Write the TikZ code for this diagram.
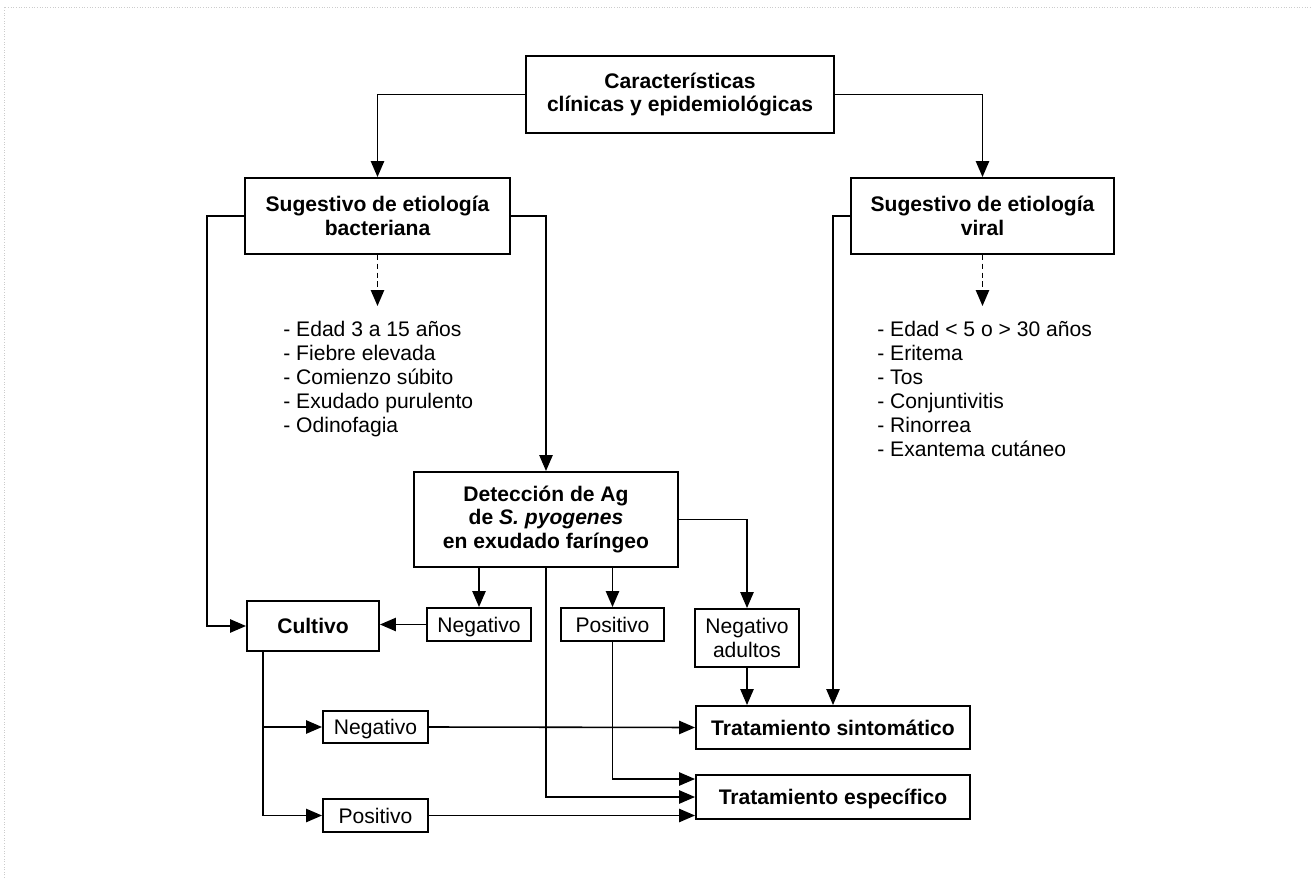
\documentclass[tikz,border=0pt]{standalone}
\usepackage{fontspec}
\setmainfont{Liberation Sans}
\usetikzlibrary{arrows.meta,calc}
\begin{document}
\begin{tikzpicture}[x=0.02cm,y=-0.02cm,
  wh/.style 2 args={minimum width=#1*0.02cm, minimum height=#2*0.02cm},
  box/.style={draw, line width=1.1pt, inner sep=0pt, align=center, font=\fontsize{12}{13.6}\selectfont\bfseries},
  sbox/.style={draw, line width=1.1pt, inner sep=0pt, align=center, font=\fontsize{12}{13.6}\selectfont},
  one/.style={text height=8.6pt, text depth=0pt},
  arr/.style={line width=0.9pt, -{Triangle[length=9pt,width=7.5pt]}},
  darr/.style={arr, dash pattern=on 3pt off 2pt},
  lst/.style={inner sep=0pt, align=left, anchor=north west, font=\fontsize{12}{13.6}\selectfont},
  frame/.style={gray!40, line width=0.5pt, densely dotted}
]
\useasboundingbox (0,0) rectangle (1312,878);
\fill[white] (0,0) rectangle (1312,878);
\draw[frame] (4,878) -- (4,7) -- (1312,7);

\node[box, wh={308}{77}] (top) at (680,94.5) {Características\\clínicas y epidemiológicas};
\node[box, wh={265}{76}] (bac) at (377.5,216) {Sugestivo de etiología\\bacteriana};
\node[box, wh={263}{76}] (vir) at (982.5,216) {Sugestivo de etiología\\viral};
\node[box, wh={264}{95}] (det) at (546,519.5) {Detección de Ag\\de \textit{S. pyogenes}\\en exudado faríngeo};
\node[sbox, one, wh={104}{33}] (neg1) at (479,624.5) {Negativo};
\node[sbox, one, wh={103}{33}] (pos1) at (612.5,624.5) {Positivo};
\node[sbox, wh={104}{58}] (nega) at (747,638) {Negativo\\adultos};
\node[box, one, wh={132}{50}] (cult) at (313,626) {Cultivo};
\node[sbox, one, wh={105}{32}] (neg2) at (375.5,727) {Negativo};
\node[sbox, one, wh={105}{33}] (pos2) at (375.5,815.5) {Positivo};
\node[box, one, wh={274}{43}] (sint) at (833,727.5) {Tratamiento sintomático};
\node[box, one, wh={274}{44}] (espe) at (833,797) {Tratamiento específico};

\node[lst] (blist) at (283,321) {- Edad 3 a 15 años\\- Fiebre elevada\\- Comienzo súbito\\- Exudado purulento\\- Odinofagia};
\node[lst] (vlist) at (877,321) {- Edad < 5 o > 30 años\\- Eritema\\- Tos\\- Conjuntivitis\\- Rinorrea\\- Exantema cutáneo};

\coordinate (bd) at (377.5,306);
\coordinate (vd) at (982.5,306);
\draw[darr] (bac.south) -- (bd);
\draw[darr] (vir.south) -- (vd);

\draw[arr] (top.west) -| (bac.north);
\draw[arr] (top.east) -| (vir.north);
\draw[arr] (bac.west) -- ++(-37,0) |- (cult.west);
\draw[arr] (bac.east) -| (det.north);
\draw[arr] (vir.west) -| (sint.north);
\draw[arr] (det.east) -| (nega.north);
\draw[arr] (det.south -| neg1.north) -- (neg1.north);
\draw[arr] (det.south -| pos1.north) -- (pos1.north);
\draw[arr] (det.south) |- (espe.west);
\draw[arr] (pos1.south) |- ($(espe.west)+(0,-18)$);
\draw[arr] (pos2.east) -- (pos2.east -| espe.west);
\draw[arr] (neg2.east) -- (sint.west);
\draw[arr] (neg1.west) -- (neg1.west -| cult.east);
\draw[arr] (nega.south) -- (nega.south |- sint.north);
\coordinate (cb) at ($(cult.south west)+(17,0)$);
\draw[arr] (cb) |- (pos2.west);
\draw[arr] (cb |- neg2.west) -- (neg2.west);
\end{tikzpicture}
\end{document}
